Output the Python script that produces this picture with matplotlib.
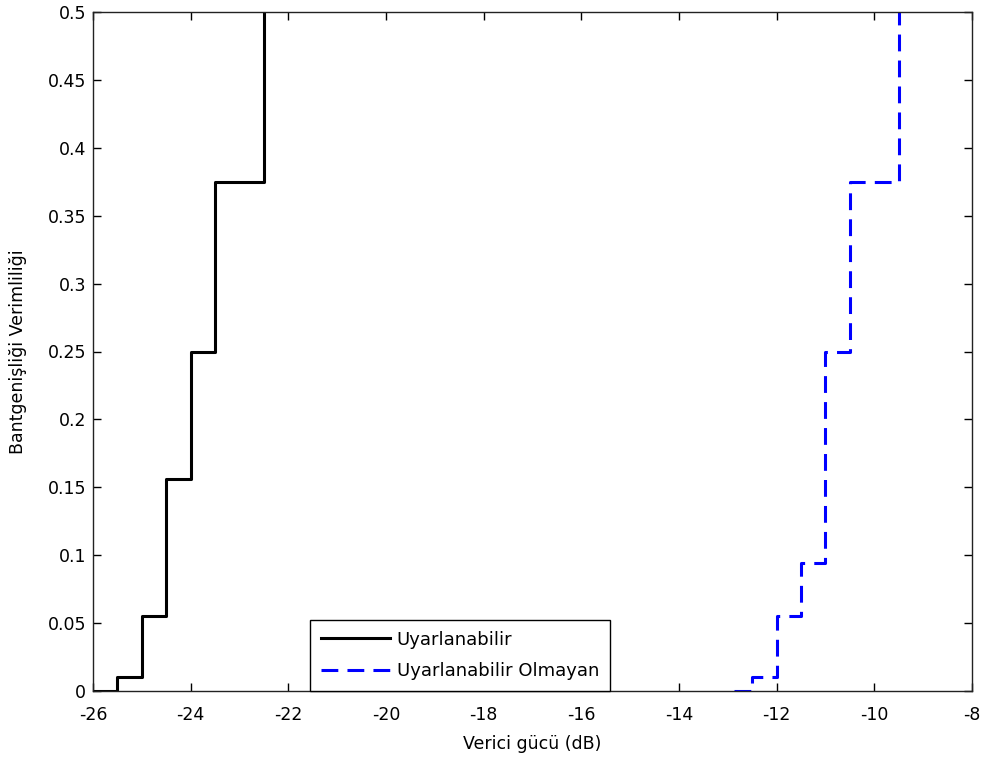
import matplotlib
matplotlib.use('Agg')
import matplotlib.pyplot as plt
import numpy as np

plt.rcParams['font.family'] = ['DejaVu Sans']

# Uyarlanabilir (adaptive) - basamak noktaları
x_uyar = [-26, -25.5, -25, -24.5, -24, -23.5, -22.5]
y_uyar = [0, 0.01, 0.055, 0.156, 0.25, 0.375, 0.5]

# Uyarlanabilir Olmayan (non-adaptive)
x_sabit = [-12.87, -12.5, -12, -11.5, -11, -10.5, -9.5]
y_sabit = [0, 0.01, 0.055, 0.094, 0.25, 0.375, 0.5]

x_ticks = np.arange(-26, -7, 2)
y_ticks = np.arange(0, 0.51, 0.05)

fig = plt.figure(figsize=(9.83, 7.6), dpi=100)
ax = fig.add_axes([0.0946, 0.0908, 0.8942, 0.8934])

ax.step(x_uyar, y_uyar, where='post', color='black', linewidth=2.2,
        label='Uyarlanabilir')
ax.step(x_sabit, y_sabit, where='post', color='#0000ff', linewidth=2.2,
        dashes=(5.5, 3), label='Uyarlanabilir Olmayan')

ax.set_xlim(-26, -8)
ax.set_ylim(0, 0.5)
ax.set_xticks(x_ticks)
ax.set_yticks(y_ticks)
ax.set_xticklabels([f'{v:d}' for v in x_ticks])
ax.set_yticklabels(['0'] + [f'{v:g}' for v in y_ticks[1:]])

ax.tick_params(direction='in', top=True, right=True, length=6, width=1,
               labelsize=12.5)
ax.tick_params(axis='x', pad=11)
ax.tick_params(axis='y', pad=5)
for s in ax.spines.values():
    s.set_linewidth(1)
    s.set_color('#222222')

ax.set_xlabel('Verici gücü (dB)', fontsize=12.5, labelpad=8)
ax.set_ylabel('Bantgenişliği Verimliliği', fontsize=12.5, labelpad=15)

leg = ax.legend(loc='lower left', bbox_to_anchor=(0.247, 0.0), fontsize=13,
                fancybox=False, framealpha=1, edgecolor='black',
                handlelength=3.8, handletextpad=0.4, borderpad=0.6,
                labelspacing=0.75, borderaxespad=0)
leg.get_frame().set_linewidth(1)

fig.savefig('out.png', dpi=100)
